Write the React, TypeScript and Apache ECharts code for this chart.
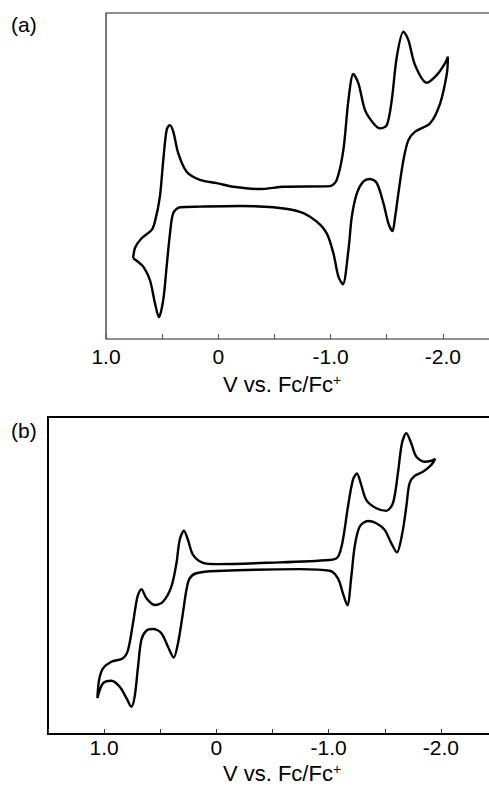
import React, { useEffect, useRef } from "react";
import * as echarts from "echarts";

// Panel (a): potential (V vs. Fc/Fc+) and current (arbitrary units, 0–100 of frame)
const potentialA = [
  0.758, 0.742, 0.683, 0.594, 0.564, 0.520, 0.490, 0.460, 0.433, 0.401,
  0.357, 0.282, 0.163, 0.014, -0.134, -0.372, -0.579, -0.996, -1.055, -1.114,
  -1.159, -1.203, -1.248, -1.307, -1.381, -1.441, -1.501, -1.545, -1.590, -1.649,
  -1.693, -1.753, -1.857, -1.947, -2.020, -2.045,
  -2.036, -1.976, -1.887, -1.753, -1.693, -1.649, -1.604, -1.575, -1.551, -1.515,
  -1.471, -1.412, -1.352, -1.292, -1.234, -1.189, -1.159, -1.109, -1.070, -1.025,
  -0.966, -0.877, -0.728, -0.490, -0.193, 0.163, 0.341, 0.401, 0.430, 0.460,
  0.490, 0.529, 0.564, 0.609, 0.668, 0.727, 0.758,
];
const currentA = [
  24.8, 27.9, 30.9, 33.4, 36.0, 43.7, 54.9, 64.1, 65.6, 63.6,
  57.0, 51.3, 48.8, 47.8, 46.7, 46.0, 46.7, 46.9, 48.8, 58.0,
  73.3, 81.3, 78.4, 70.2, 66.2, 64.6, 65.6, 73.3, 86.6, 94.3,
  91.7, 84.0, 78.6, 81.0, 84.6, 86.6,
  81.5, 72.3, 66.2, 63.6, 61.0, 54.9, 44.7, 37.5, 33.1, 35.5,
  41.6, 47.8, 49.1, 48.3, 44.7, 37.5, 27.3, 16.8, 19.1, 26.3,
  32.4, 36.0, 39.0, 40.4, 40.8, 40.6, 40.4, 38.6, 32.4, 22.2,
  12.0, 6.7, 11.0, 18.1, 22.2, 24.0, 24.8,
];

// Panel (b)
const potentialB = [
  1.060, 1.045, 1.010, 0.935, 0.832, 0.787, 0.743, 0.703, 0.668, 0.623,
  0.549, 0.476, 0.401, 0.356, 0.327, 0.289, 0.253, 0.208, 0.119, 0.000,
  -0.445, -1.009, -1.083, -1.127, -1.172, -1.216, -1.252, -1.291, -1.336, -1.425,
  -1.514, -1.573, -1.617, -1.653, -1.692, -1.736, -1.781, -1.855, -1.915, -1.950,
  -1.915, -1.840, -1.766, -1.721, -1.692, -1.656, -1.608, -1.558, -1.499, -1.425,
  -1.350, -1.276, -1.232, -1.202, -1.167, -1.127, -1.083, -1.009, -0.742, 0.000,
  0.178, 0.238, 0.267, 0.303, 0.342, 0.380, 0.431, 0.490, 0.565, 0.623,
  0.668, 0.698, 0.728, 0.757, 0.801, 0.861, 0.935, 1.010, 1.060,
];
const currentB = [
  11.3, 17.0, 20.7, 22.8, 23.9, 26.5, 34.9, 43.3, 45.7, 42.8,
  40.7, 41.7, 46.5, 53.8, 61.2, 64.1, 61.2, 56.5, 54.0, 53.6,
  54.0, 54.9, 55.9, 61.2, 71.7, 80.1, 82.2, 78.5, 73.8, 71.2,
  70.4, 72.8, 82.2, 91.7, 94.9, 91.7, 87.5, 85.9, 86.2, 86.8,
  84.9, 82.7, 81.4, 79.1, 71.7, 63.3, 57.3, 60.2, 64.4, 66.5,
  67.2, 65.4, 59.1, 49.6, 40.6, 44.4, 49.1, 51.5, 52.0, 51.4,
  50.7, 49.1, 45.4, 37.0, 28.6, 24.1, 27.5, 31.8, 33.1, 32.6,
  29.7, 21.2, 11.8, 8.6, 11.3, 14.9, 16.8, 16.0, 11.3,
];

const labeledTicks = [1.0, 0, -1.0, -2.0];
const tickLabels = ["1.0", "0", "-1.0", "-2.0"];
const axisTitle = "V vs. Fc/Fc";
const panelLabels = ["(a)", "(b)"];

const FONT = "'Liberation Sans', Arial, Helvetica, sans-serif";

function zip(xs: number[], ys: number[]) {
  return xs.map((x, i) => [x, ys[i]]);
}

function fmt(v: number) {
  const idx = labeledTicks.findIndex((t) => Math.abs(t - v) < 1e-6);
  return idx >= 0 ? tickLabels[idx] : "";
}

export default function App() {
  const ref = useRef<HTMLDivElement>(null);
  useEffect(() => {
    if (!ref.current) return;
    document.body.style.margin = "0";
    document.body.style.overflow = "hidden";
    const chart = echarts.init(ref.current, null, { renderer: "svg", width: 489, height: 787 });
    const xAxisBase = (gridIndex: number, max: number, margin: number, tickColor: string) => ({
      type: "value",
      gridIndex,
      inverse: true,
      min: -2.5,
      max,
      interval: 0.5,
      axisLine: { show: false },
      splitLine: { show: false },
      axisTick: { show: true, inside: true, length: 5, lineStyle: { color: tickColor, width: 1 } },
      axisLabel: {
        formatter: fmt,
        margin,
        color: "#000",
        fontFamily: FONT,
        fontSize: 21,
        lineHeight: 21,
        showMinLabel: true,
        showMaxLabel: true,
      },
    });
    const yAxisBase = (gridIndex: number) => ({
      type: "value",
      gridIndex,
      min: 0,
      max: 100,
      show: false,
    });
    const titleText = (cx: number, cy: number) => ({
      type: "text",
      x: cx,
      y: cy,
      style: {
        text: "{m|" + axisTitle + "}{s|+}",
        align: "center",
        verticalAlign: "middle",
        rich: {
          m: { fontSize: 22, fontFamily: FONT, color: "#000", lineHeight: 22, verticalAlign: "bottom" },
          s: { fontSize: 14, fontFamily: FONT, color: "#000", lineHeight: 22, verticalAlign: "top", padding: [0, 0, 8, 0] },
        },
      },
    });
    const option = {
      animation: false,
      grid: [
        { left: 106, top: 13, width: 393, height: 326, show: true, borderColor: "#222", borderWidth: 1.2, backgroundColor: "transparent", containLabel: false, outerBoundsMode: "none" },
        { left: 48, top: 417, width: 449, height: 317, show: true, borderColor: "#000", borderWidth: 2, backgroundColor: "transparent", containLabel: false, outerBoundsMode: "none" },
      ],
      xAxis: [xAxisBase(0, 1.0, 7, "#555"), xAxisBase(1, 1.5, 3, "#333")],
      yAxis: [yAxisBase(0), yAxisBase(1)],
      series: [
        {
          type: "line",
          xAxisIndex: 0,
          yAxisIndex: 0,
          data: zip(potentialA, currentA),
          showSymbol: false,
          smooth: 0.3,
          lineStyle: { color: "#000", width: 2.4 },
        },
        {
          type: "line",
          xAxisIndex: 1,
          yAxisIndex: 1,
          data: zip(potentialB, currentB),
          showSymbol: false,
          smooth: 0.3,
          lineStyle: { color: "#000", width: 2.4 },
        },
      ],
      graphic: [
        { type: "text", left: 11, top: 14, style: { text: panelLabels[0], fontSize: 21, fontFamily: FONT, fill: "#000" } },
        { type: "text", left: 11, top: 420, style: { text: panelLabels[1], fontSize: 21, fontFamily: FONT, fill: "#000" } },
        titleText(282, 384),
        titleText(282, 773),
      ],
    };
    chart.setOption(option as any);
    return () => chart.dispose();
  }, []);
  return (
    <div
      style={{ position: "fixed", left: 0, top: 0, width: 489, height: 787, overflow: "hidden", background: "#fff" }}
    >
      <div ref={ref} style={{ width: 489, height: 787, overflow: "hidden" }} />
    </div>
  );
}
